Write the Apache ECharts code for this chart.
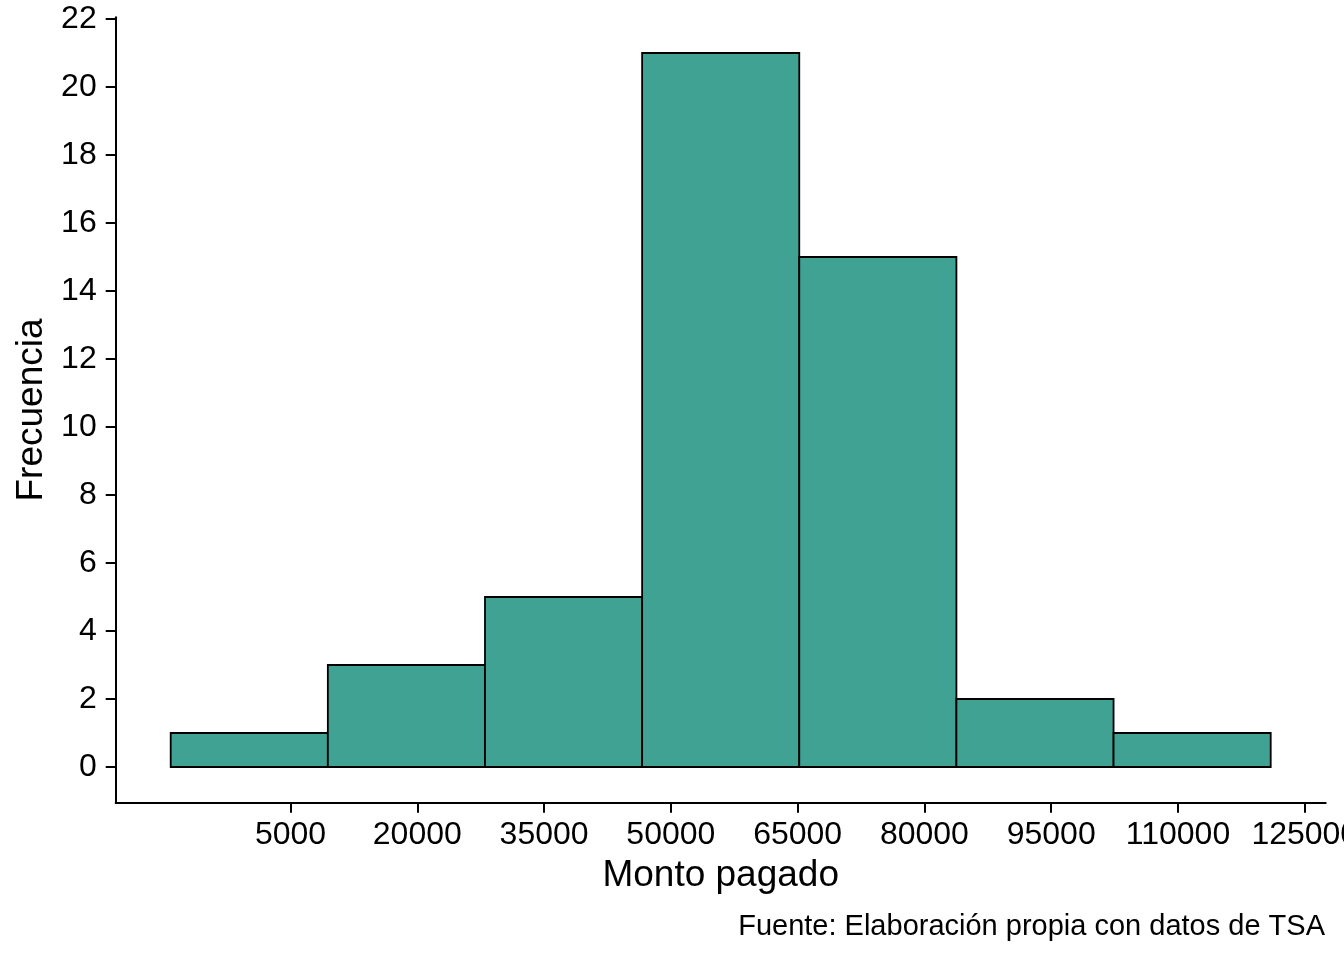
<!DOCTYPE html>
<html>
<head>
<meta charset="utf-8">
<title>Histograma monto pagado</title>
<script src="https://cdn.jsdelivr.net/npm/echarts@6/dist/echarts.min.js"></script>
<style>
  html, body { margin: 0; padding: 0; background: #fff; }
  #chart { width: 1344px; height: 960px; }
</style>
</head>
<body>
<div id="chart"></div>
<script>
// bordes de los intervalos (8 bordes -> 7 barras)
var binEdges = [-9175, 9417, 28009, 46601, 65193, 83785, 102377, 120969];
// frecuencia de cada intervalo
var counts = [1, 3, 5, 21, 15, 2, 1];
var xTicks = [5000, 20000, 35000, 50000, 65000, 80000, 95000, 110000, 125000];
var yTicks = [0, 2, 4, 6, 8, 10, 12, 14, 16, 18, 20, 22];

var FONT = 'Liberation Sans';

var barData = counts.map(function (c, i) {
  return [binEdges[i], binEdges[i + 1], c];
});

var chart = echarts.init(document.getElementById('chart'));

var option = {
  backgroundColor: '#fff',
  animation: false,
  title: {
    text: 'Fuente: Elaboración propia con datos de TSA',
    right: 19,
    top: 912,
    padding: 0,
    textStyle: {
      fontFamily: FONT,
      fontSize: 29,
      fontWeight: 'normal',
      color: '#000'
    }
  },
  grid: {
    left: 115.7,
    right: 18.3,
    top: 17.3,
    bottom: 157.3,
    containLabel: false,
    outerBoundsMode: 'none'
  },
  xAxis: {
    type: 'value',
    min: -15682,
    max: 127476,
    name: 'Monto pagado',
    nameLocation: 'middle',
    nameGap: 55,
    nameTextStyle: {
      fontFamily: FONT,
      fontSize: 37,
      color: '#000'
    },
    splitLine: { show: false },
    axisLine: { show: true, onZero: false, lineStyle: { color: '#000', width: 2 } },
    axisTick: {
      show: true,
      length: 10,
      customValues: xTicks,
      lineStyle: { color: '#000', width: 2 }
    },
    axisLabel: {
      customValues: xTicks,
      margin: 16,
      fontFamily: FONT,
      fontSize: 32,
      color: '#000',
      formatter: function (v) { return String(v); }
    }
  },
  yAxis: {
    type: 'value',
    min: -1.05,
    max: 22.05,
    name: 'Frecuencia',
    nameLocation: 'middle',
    nameGap: 63,
    nameRotate: 90,
    nameTextStyle: {
      fontFamily: FONT,
      fontSize: 37,
      color: '#000'
    },
    splitLine: { show: false },
    axisLine: { show: true, onZero: false, lineStyle: { color: '#000', width: 2 } },
    axisTick: {
      show: true,
      length: 10,
      customValues: yTicks,
      lineStyle: { color: '#000', width: 2 }
    },
    axisLabel: {
      customValues: yTicks,
      margin: 19,
      fontFamily: FONT,
      fontSize: 32,
      color: '#000',
      formatter: function (v) { return String(v); }
    }
  },
  series: [{
    type: 'custom',
    data: barData,
    encode: { x: [0, 1], y: 2 },
    renderItem: function (params, api) {
      var p0 = api.coord([api.value(0), 0]);
      var p1 = api.coord([api.value(1), api.value(2)]);
      return {
        type: 'rect',
        shape: {
          x: p0[0],
          y: p1[1],
          width: p1[0] - p0[0],
          height: p0[1] - p1[1]
        },
        style: {
          fill: '#40a293',
          stroke: '#000',
          lineWidth: 1.8
        }
      };
    }
  }]
};

chart.setOption(option);
</script>
</body>
</html>
